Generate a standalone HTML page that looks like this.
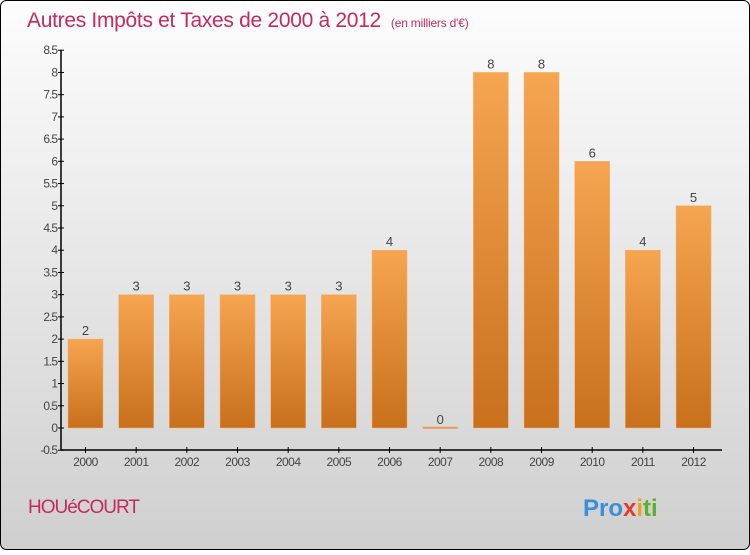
<!DOCTYPE html>
<html><head><meta charset="utf-8"><style>
body{margin:0;width:750px;height:550px;overflow:hidden;font-family:"Liberation Sans",sans-serif}
</style></head><body>
<svg width="750" height="550" xmlns="http://www.w3.org/2000/svg">
<defs>
<linearGradient id="bg" x1="0" y1="0" x2="0" y2="1"><stop offset="0" stop-color="#fdfdfd"/><stop offset="1" stop-color="#cfcfcf"/></linearGradient>
<linearGradient id="bar" x1="0" y1="0" x2="0" y2="1"><stop offset="0" stop-color="#f6a550"/><stop offset="1" stop-color="#c8701c"/></linearGradient>
</defs>
<rect x="0.5" y="0.5" width="749" height="549" rx="6" fill="url(#bg)" stroke="#000"/>
<text x="27" y="27" font-size="21" fill="#c42a5c" letter-spacing="-0.3">Autres Impôts et Taxes de 2000 à 2012<tspan font-size="12" dx="10" letter-spacing="-0.2">(en milliers d'€)</tspan></text>
<g id="plot"></g>
<text x="28" y="513" font-size="19" fill="#c42a5c" letter-spacing="-1">HOUéCOURT</text>
<text x="583" y="516" font-size="24" font-weight="bold"><tspan fill="#3a8fd6">Pro</tspan><tspan fill="#e23c2c">x</tspan><tspan fill="#f0a020">i</tspan><tspan fill="#5ab030">ti</tspan></text>
</svg>
<script>
const categories=["2000","2001","2002","2003","2004","2005","2006","2007","2008","2009","2010","2011","2012"];
const values=[2,3,3,3,3,3,4,0,8,8,6,4,5];
const yTicks=[-0.5,0,0.5,1,1.5,2,2.5,3,3.5,4,4.5,5,5.5,6,6.5,7,7.5,8,8.5];
const NS="http://www.w3.org/2000/svg";
const g=document.getElementById('plot');
const y=v=>428-(v)*400/9;
const x=i=>85.5+i*50.67;
function el(t,a){const e=document.createElementNS(NS,t);for(const k in a)e.setAttribute(k,a[k]);g.appendChild(e);return e;}
const ax=el('line',{x1:61,y1:50,x2:61,y2:450,stroke:'#000','stroke-width':1.5});


const bx=el('line',{x1:61,y1:450,x2:722,y2:450,stroke:'#000','stroke-width':1.5});


yTicks.forEach(v=>{
  const t=el('line',{x1:58,x2:64,y1:y(v),y2:y(v),stroke:'#000'});
  
  
  const l=el('text',{x:57,y:y(v)+4,'font-size':12,'text-anchor':'end',fill:'#444','letter-spacing':'-1'});
  l.textContent=String(v);
  
  
});
categories.forEach((c,i)=>{
  const v=values[i];
  const top=y(Math.max(v,0)),h=Math.max(Math.abs(y(0)-y(v)),1.5);
  const r=el('rect',{x:x(i)-17.5,y:v>0?top:y(0)-1,width:35,height:h,fill:'url(#bar)',stroke:'#f2b070','stroke-width':0.5});
  
  
  const vl=el('text',{x:x(i),y:top-4,'font-size':13,'text-anchor':'middle',fill:'#444'});
  vl.textContent=String(v);
  
  
  const t=el('line',{x1:x(i),x2:x(i),y1:447,y2:453,stroke:'#000'});
  
  
  const l=el('text',{x:x(i),y:466,'font-size':12,'text-anchor':'middle',fill:'#444','letter-spacing':'-0.5'});
  l.textContent=c;
  
  
});
</script>
</body></html>
